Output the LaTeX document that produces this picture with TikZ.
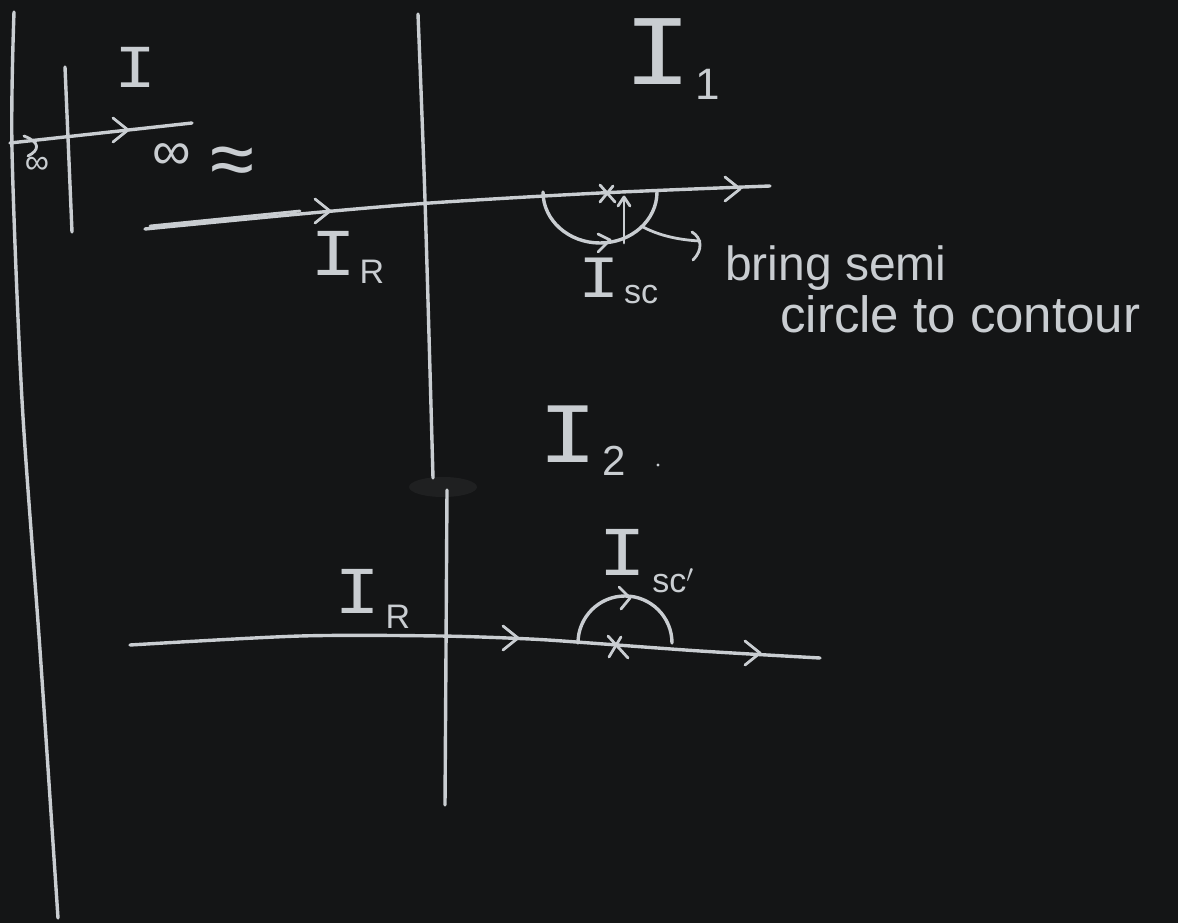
\documentclass[tikz,border=0pt]{standalone}
\usepackage{fontspec}
\setmainfont{Liberation Sans}
\newfontfamily\monoI{Liberation Mono}
\usepackage{graphicx}
\usetikzlibrary{arrows.meta}
\definecolor{board}{HTML}{141516}
\definecolor{chalk}{HTML}{C9CDD1}
\definecolor{smudge}{HTML}{1F2021}
\newcommand{\chalkI}[1]{{\monoI\fontsize{#1}{#1}\selectfont\scalebox{1.15}[1]{I}}}
\newcommand{\fsz}[1]{\fontsize{#1}{#1}\selectfont}
\begin{document}
\begin{tikzpicture}[x=1pt,y=-1pt,
  chalkline/.style={draw=chalk,line width=3.4pt,line cap=round,line join=round},
  thinchalk/.style={draw=chalk,line width=2.8pt,line cap=round,line join=round},
  lbl/.style={text=chalk,inner sep=0pt,anchor=base},
  chev/.pic={\draw[thinchalk] (-15,-12) -- (0,0) -- (-15,12);}
]
\fill[board] (0,0) rectangle (1178,923);
\useasboundingbox (0,0) rectangle (1178,923);

% smudge
\fill[smudge] (443,487) ellipse [x radius=34, y radius=10];

% long left vertical line
\draw[chalkline] plot[smooth] coordinates {(14,12) (12,150) (22,400) (40,650) (58,918)};
% small vertical axis
\coordinate (sv1) at (65,67); \coordinate (sv2) at (72,232);
\draw[chalkline] (sv1) -- (sv2);
% small horizontal axis
\coordinate (sh1) at (10,143); \coordinate (sh2) at (192,123);
\draw[chalkline] (sh1) -- (sh2);
\pic at (128,130) {chev};

% left squiggle
\draw[thinchalk] (24,136) .. controls (40,142) and (40,150) .. (28,156);
\node[lbl] at (37,174) {\fsz{34}∞};

% labels top-left
\node[lbl] (Itop) at (136,88) {\chalkI{61}};
\node[lbl] (inf) at (172,170) {\fsz{54}∞};
\node[lbl] (approx) at (232,186) {\fsz{80}≈};

% middle vertical line (two segments)
\draw[chalkline] plot[smooth] coordinates {(418,14) (425,200) (433,478)};
\draw[chalkline] plot[smooth] coordinates {(447,490) (446,650) (445,805)};

% top contour
\draw[chalkline] plot[smooth] coordinates {(145,229) (300,214) (430,203) (600,193) (770,186)};
\draw[thinchalk] (150,226) -- (300,211);
\pic at (330,211) {chev};
\pic at (740,189) {chev};

% top semicircle (below line)
\draw[chalkline] (543,192) arc[start angle=180, end angle=0, x radius=57, y radius=51];
\draw[thinchalk] (598,234) -- (610,240) -- (598,252);
% x mark
\draw[thinchalk] (600,185) -- (615,202);
\draw[thinchalk] (613,186) -- (600,202);
% small up arrow
\draw[thinchalk] (624,243) -- (624,198);
\draw[thinchalk] (618,206) -- (624,197) -- (630,206);
% arrow towards text
\draw[thinchalk] (643,227) .. controls (660,236) and (680,240) .. (700,241);
\draw[thinchalk] (692,232) .. controls (702,238) and (703,250) .. (693,260);

% top labels
\node[lbl] (I1) at (658,85) {\chalkI{100}};
\node[lbl] at (708,100) {\fsz{44}1};
\node[lbl] (IRtop) at (334,275) {\chalkI{67}};
\node[lbl] at (372,283) {\fsz{34}R};
\node[lbl] (Isc) at (599,297) {\chalkI{60}};
\node[lbl] at (641,303) {\fsz{34}sc};
\node[lbl,anchor=base west] (bring) at (725,280) {\fsz{48}bring semi};
\node[lbl,anchor=base west] (circ) at (780,332) {\fsz{51}circle to contour};

% I_2
\node[lbl] (I2) at (568,462) {\chalkI{86}};
\node[lbl] at (614,475) {\fsz{42}2};
\fill[chalk] (658,465) circle (1.6);

% bottom contour
\draw[chalkline] plot[smooth] coordinates {(130,645) (300,636) (440,636) (530,639) (590,643) (700,651) (820,658)};
\pic at (518,638) {chev};
\pic at (760,653) {chev};
% bottom semicircle (above line)
\draw[chalkline] (578,643) arc[start angle=180, end angle=360, x radius=47, y radius=47];
\draw[thinchalk] (619,587) -- (630,598) -- (621,609);
% x mark
\draw[thinchalk] (608,636) -- (628,658);
\draw[thinchalk] (621,637) -- (609,657);

% bottom labels
\node[lbl] (IRbot) at (358,613) {\chalkI{67}};
\node[lbl] at (398,628) {\fsz{34}R};
\node[lbl] (Iscp) at (623,575) {\chalkI{70}};
\node[lbl] at (673,592) {\fsz{34}sc$'$};
\end{tikzpicture}
\end{document}
